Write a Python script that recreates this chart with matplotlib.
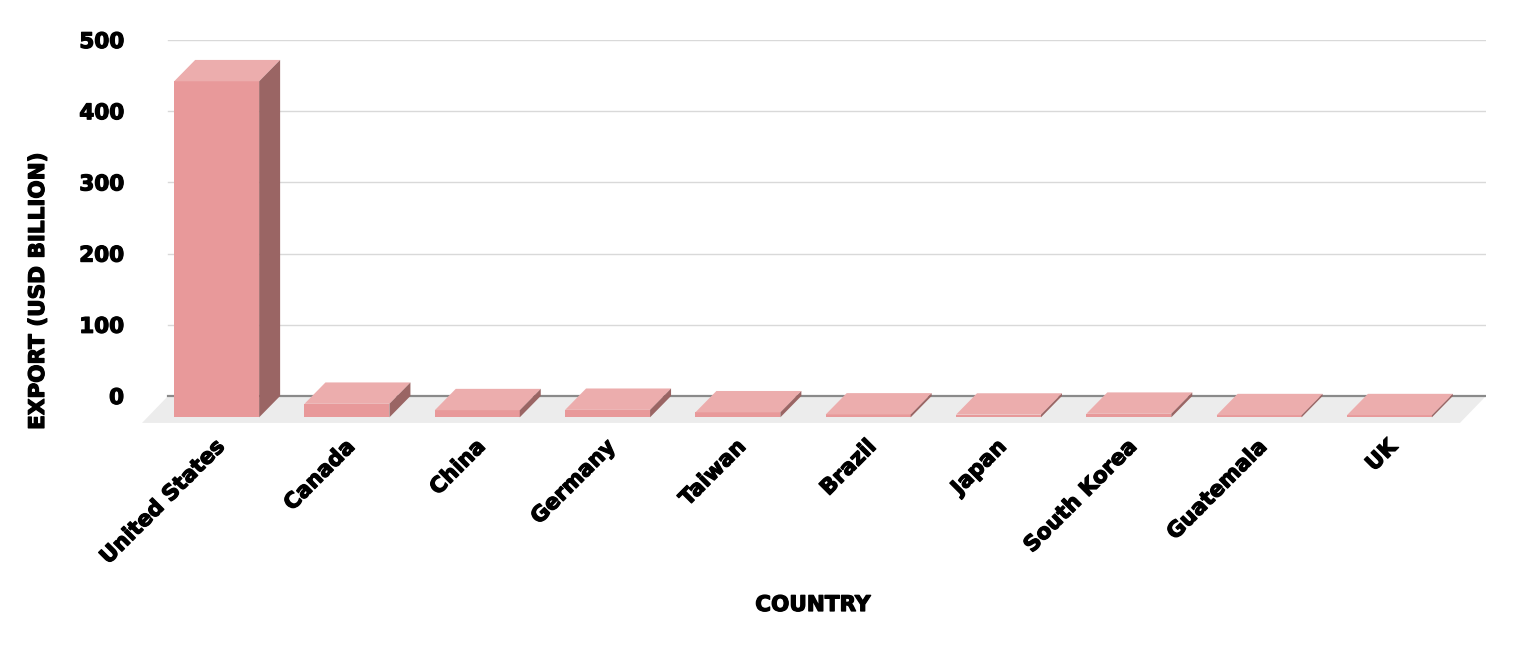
import matplotlib
matplotlib.use("Agg")
import matplotlib.pyplot as plt
from matplotlib.patches import Polygon, Rectangle
import matplotlib.patheffects as pe

# ---- data ----
countries = ["United States", "Canada", "China", "Germany", "Taiwan",
             "Brazil", "Japan", "South Korea", "Guatemala", "UK"]
exports = [472, 19, 10, 10.5, 7, 4, 3.8, 5, 3, 3]
yticks = [0, 100, 200, 300, 400, 500]
ytick_labels = ["0", "100", "200", "300", "400", "500"]

# ---- style ----
FRONT = "#e8999a"
TOP = "#ecadad"
SIDE = "#9a6564"
FLOOR = "#ececec"
GRID = "#d9d9d9"
ZERO = "#8a8a8a"
FONT = ["DejaVu Sans"]
HEAVY = [pe.withStroke(linewidth=0.9, foreground="black")]

W, H = 1517, 645
fig = plt.figure(figsize=(W / 100, H / 100), dpi=100)
ax = fig.add_axes([142 / W, (H - 428) / H, 1344 / W, 388 / H])
x_lo, x_hi = -0.573, 9.741
ax.set_xlim(x_lo, x_hi)
ax.set_ylim(-45, 500)
for s in ax.spines.values():
    s.set_visible(False)

# depth geometry (data units)
bar_dx, bar_dy = 0.161, 30.0
floor_dx, floor_dy = 0.2, 37.9
bar_w = 0.652

# floor
ax.add_patch(Polygon([(x_lo, -floor_dy), (x_hi - floor_dx, -floor_dy),
                      (x_hi, 0), (x_lo + floor_dx, 0)],
                     closed=True, facecolor=FLOOR, edgecolor="none", zorder=1))
# gridlines
for t in yticks[1:]:
    ax.plot([x_lo + floor_dx, x_hi], [t, t], color=GRID, lw=1.0, zorder=1.5)
ax.plot([x_lo + floor_dx, x_hi], [0, 0], color=ZERO, lw=1.6, zorder=2)

# bars
for i, v in enumerate(exports):
    l, r = i - bar_w / 2, i + bar_w / 2
    ax.add_patch(Rectangle((l, -bar_dy), bar_w, v, facecolor=FRONT,
                           edgecolor="none", zorder=3))
    ax.add_patch(Polygon([(l, v - bar_dy), (l + bar_dx, v), (r + bar_dx, v),
                          (r, v - bar_dy)], closed=True, facecolor=TOP,
                         edgecolor="none", zorder=3))
    ax.add_patch(Polygon([(r, -bar_dy), (r + bar_dx, 0), (r + bar_dx, v),
                          (r, v - bar_dy)], closed=True, facecolor=SIDE,
                         edgecolor="none", zorder=3))

# y ticks
ax.set_yticks(yticks)
ax.set_yticklabels(ytick_labels, fontsize=15.5, fontweight="bold", family=FONT)
for lab in ax.get_yticklabels():
    lab.set_path_effects(HEAVY)
ax.tick_params(axis="y", length=0, pad=13)
ax.set_xticks([])

# x labels
for i, name in enumerate(countries):
    ax.text(i - 0.02, -57, name, rotation=45, rotation_mode="anchor",
            ha="right", va="top", fontsize=15.5, fontweight="bold",
            family=FONT, clip_on=False, path_effects=HEAVY)

fig.text(38 / W, 1 - 291 / H, "EXPORT (USD BILLION)", rotation=90,
         ha="center", va="center", fontsize=15.5, fontweight="bold",
         family=FONT, path_effects=HEAVY)
fig.text(813 / W, 1 - 605 / H, "COUNTRY", ha="center", va="center",
         fontsize=15.5, fontweight="bold", family=FONT, path_effects=HEAVY)

fig.savefig("out.png", dpi=100)
